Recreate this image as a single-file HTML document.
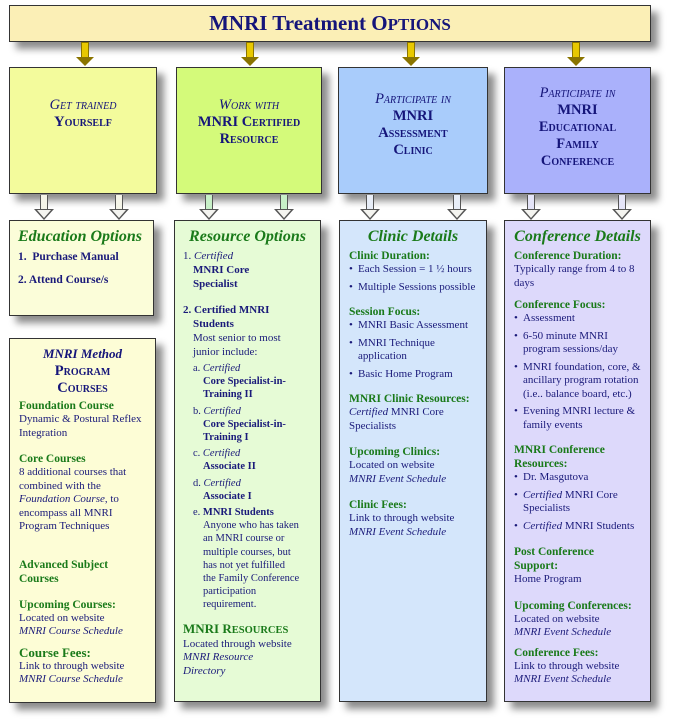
<!DOCTYPE html>
<html><head><meta charset="utf-8"><style>
body{margin:0;width:675px;height:719px;background:#fff;position:relative;overflow:hidden;font-family:"Liberation Serif",serif;color:#1a1a7a}
.b{position:absolute;border:1px solid #333;box-shadow:7px 7px 7px rgba(0,0,0,.45);box-sizing:border-box}
.t{text-align:center;font-weight:bold;font-size:14.5px;line-height:17px;color:#15157a;font-variant:small-caps}
.t i{font-weight:normal}
h3{margin:0;text-align:center;font-style:italic;font-size:16px;color:#1a7a1a;line-height:20px;white-space:nowrap}
.g{color:#1a7a1a;font-weight:bold;font-size:11.5px;line-height:14px}
.x{font-size:11px;line-height:13.5px}
.sp{height:12px}
ul{margin:0;padding:0;list-style:none}
li{position:relative;padding-left:9px;font-size:11px;line-height:13.5px;margin-bottom:4px;white-space:nowrap}
li:before{content:"•";position:absolute;left:0}
.ya{position:absolute;width:6px;height:16px;background:#e8c800;border:1px solid #8a7400;top:42px}
.ya:after{content:"";position:absolute;left:-6px;top:14px;border-left:9px solid transparent;border-right:9px solid transparent;border-top:9px solid #8a7400}
.ha{position:absolute;width:6px;height:15px;border:1px solid #555;border-top:none;top:195px;background:#f4f4e8}
.ha:after{content:"";position:absolute;left:-7px;top:14px;border-left:10px solid transparent;border-right:10px solid transparent;border-top:11px solid #555}
.ha:before{content:"";position:absolute;left:-4px;top:15px;border-left:7px solid transparent;border-right:7px solid transparent;border-top:8px solid #f4f4f0;z-index:2}
.s{font-size:10.5px;line-height:13.2px;white-space:nowrap}
.s .i{padding-left:10px}
</style></head><body>
<div class="b" style="left:9px;top:5px;width:642px;height:37px;background:#fbefb6;text-align:center;font-size:21px;font-weight:bold;line-height:35px;color:#15157a">MNRI Treatment O<span style="font-size:17px">PTIONS</span></div>
<div class="ya" style="left:81px"></div><div class="ya" style="left:246px"></div><div class="ya" style="left:407px"></div><div class="ya" style="left:572px"></div>

<div class="b" style="left:9px;top:67px;width:148px;height:127px;background:#f3fb9c"><div class="t" style="margin-top:29px"><i>Get trained</i><br>Yourself</div></div>
<div class="b" style="left:176px;top:67px;width:146px;height:127px;background:#d4fa7a"><div class="t" style="margin-top:29px"><i>Work with</i><br>MNRI Certified<br>Resource</div></div>
<div class="b" style="left:338px;top:67px;width:150px;height:127px;background:#a9ccfb"><div class="t" style="margin-top:23px"><i>Participate in</i><br>MNRI<br>Assessment<br>Clinic</div></div>
<div class="b" style="left:504px;top:67px;width:147px;height:127px;background:#aab1fb"><div class="t" style="margin-top:17px"><i>Participate in</i><br>MNRI<br>Educational<br>Family<br>Conference</div></div>

<div class="ha" style="left:40px"></div><div class="ha" style="left:115px"></div>
<div class="ha" style="left:205px;background:#c8f0c8"></div><div class="ha" style="left:280px;background:#c8f0c8"></div>
<div class="ha" style="left:366px;background:#e8eef8"></div><div class="ha" style="left:453px;background:#e8eef8"></div>
<div class="ha" style="left:527px;background:#e4e4f8"></div><div class="ha" style="left:618px;background:#e4e4f8"></div>

<div class="b" style="left:9px;top:220px;width:145px;height:96px;background:#fbfdd9;padding:6px 4px 6px 8px">
<h3 style="text-align:left">Education Options</h3>
<div class="x" style="font-weight:bold;margin-top:4px;font-size:11.5px">1.&nbsp; Purchase Manual</div>
<div class="x" style="font-weight:bold;margin-top:9px;font-size:11.5px">2. Attend Course/s</div></div>

<div class="b" style="left:9px;top:338px;width:147px;height:365px;background:#fdfdd6;padding:6px 9px">
<div class="t" style="line-height:17px"><i style="font-weight:bold;font-variant:normal;font-size:13px">MNRI Method</i><br>Program<br>Courses</div>
<div class="g" style="margin-top:2px">Foundation Course</div><div class="x">Dynamic &amp; Postural Reflex<br>Integration</div>
<div class="sp"></div>
<div class="g">Core Courses</div><div class="x">8 additional courses that<br>combined with the<br><i>Foundation Course</i>, to<br>encompass all MNRI<br>Program Techniques</div>
<div class="sp"></div><div class="sp"></div>
<div class="g">Advanced Subject<br>Courses</div>
<div class="sp"></div>
<div class="g">Upcoming Courses:</div><div class="x">Located on website<br><i>MNRI Course Schedule</i></div>
<div style="height:7px"></div>
<div class="g" style="font-size:13px">Course Fees:</div><div class="x">Link to through website<br><i>MNRI Course Schedule</i></div></div>

<div class="b" style="left:174px;top:220px;width:147px;height:482px;background:#e6fbd6;padding:6px 8px">
<h3>Resource Options</h3>
<div class="x" style="margin-top:2px;line-height:14px">1. <i>Certified</i><br><b style="padding-left:10px">MNRI Core</b><br><b style="padding-left:10px">Specialist</b></div>
<div class="sp"></div>
<div class="x" style="line-height:14px"><b>2. Certified MNRI</b><br><div style="padding-left:10px"><b>Students</b><br>Most senior to most<br>junior include:</div></div>
<div style="padding-left:10px;margin-top:3px">
<div class="s">a. <i>Certified</i><br><b class="i">Core Specialist-in-</b><br><b class="i">Training II</b></div>
<div class="s" style="margin-top:3px">b. <i>Certified</i><br><b class="i">Core Specialist-in-</b><br><b class="i">Training I</b></div>
<div class="s" style="margin-top:3px">c. <i>Certified</i><br><b class="i">Associate II</b></div>
<div class="s" style="margin-top:3px">d. <i>Certified</i><br><b class="i">Associate I</b></div>
<div class="s" style="margin-top:3px">e. <b>MNRI Students</b><div class="i">Anyone who has taken<br>an MNRI course or<br>multiple courses, but<br>has not yet fulfilled<br>the Family Conference<br>participation<br>requirement.</div></div></div>
<div class="g" style="margin-top:10px;font-size:13px">MNRI R<span style="font-size:10.5px">ESOURCES</span></div><div class="x">Located through website<br><i>MNRI Resource<br>Directory</i></div></div>

<div class="b" style="left:339px;top:220px;width:148px;height:482px;background:#d4e6fb;padding:6px 9px">
<h3>Clinic Details</h3>
<div class="g" style="margin-top:2px">Clinic Duration:</div>
<ul><li>Each Session = 1 ½ hours</li><li>Multiple Sessions possible</li></ul>
<div style="height:7px"></div>
<div class="g">Session Focus:</div>
<ul><li>MNRI Basic Assessment</li><li>MNRI Technique<br>application</li><li>Basic Home Program</li></ul>
<div style="height:7px"></div>
<div class="g">MNRI Clinic Resources:</div><div class="x"><i>Certified</i> MNRI Core<br>Specialists</div>
<div class="sp"></div>
<div class="g">Upcoming Clinics:</div><div class="x">Located on website<br><i>MNRI Event Schedule</i></div>
<div class="sp"></div>
<div class="g">Clinic Fees:</div><div class="x">Link to through website<br><i>MNRI Event Schedule</i></div></div>

<div class="b" style="left:504px;top:220px;width:147px;height:482px;background:#ddd9fb;padding:6px 9px">
<h3>Conference Details</h3>
<div class="g" style="margin-top:2px">Conference Duration:</div><div class="x">Typically range from 4 to 8<br>days</div>
<div style="height:8px"></div>
<div class="g">Conference Focus:</div>
<ul><li>Assessment</li><li>6-50 minute MNRI<br>program sessions/day</li><li>MNRI foundation, core, &amp;<br>ancillary program rotation<br>(i.e.. balance board, etc.)</li><li>Evening MNRI lecture &amp;<br>family events</li></ul>
<div style="height:7px"></div>
<div class="g">MNRI Conference<br>Resources:</div>
<ul><li>Dr. Masgutova</li><li><i>Certified</i> MNRI Core<br>Specialists</li><li><i>Certified</i> MNRI Students</li></ul>
<div style="height:8px"></div>
<div class="g">Post Conference<br>Support:</div><div class="x">Home Program</div>
<div class="sp"></div>
<div class="g">Upcoming Conferences:</div><div class="x">Located on website<br><i>MNRI Event Schedule</i></div>
<div style="height:6px"></div>
<div class="g">Conference Fees:</div><div class="x">Link to through website<br><i>MNRI Event Schedule</i></div></div>
</body></html>
